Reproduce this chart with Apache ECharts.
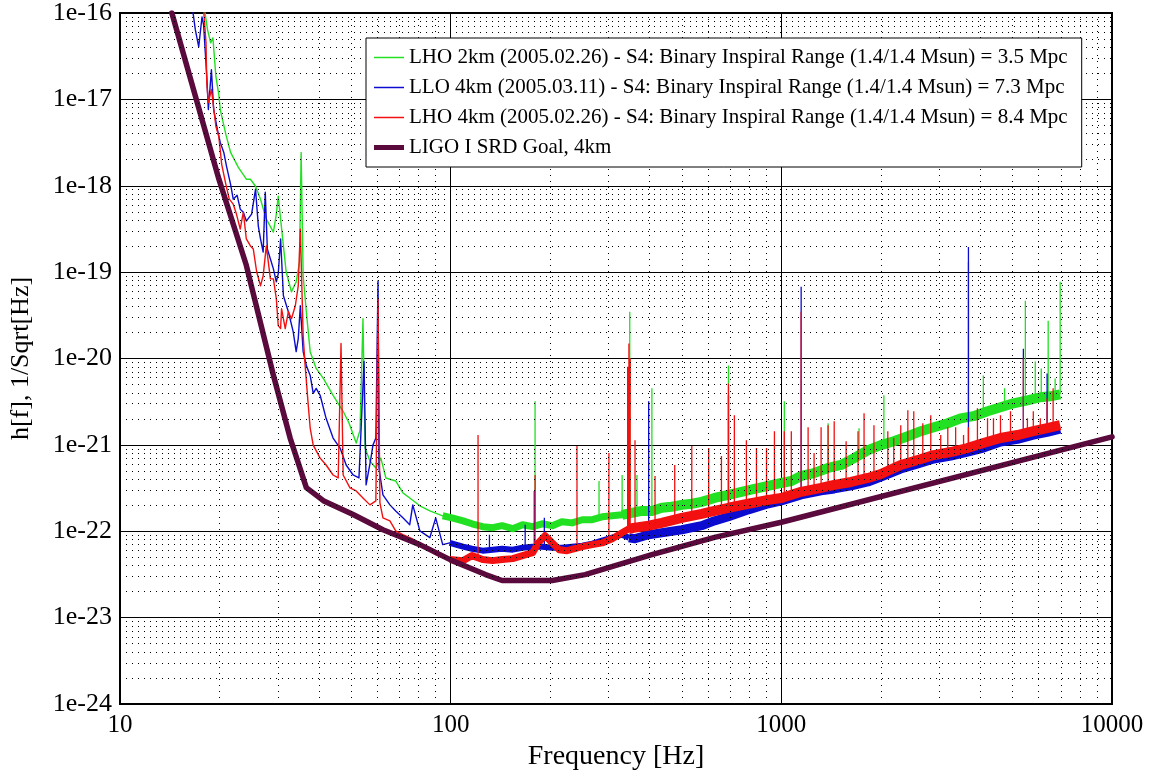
<!DOCTYPE html>
<html><head><meta charset="utf-8">
<script src="https://cdn.jsdelivr.net/npm/echarts@6/dist/echarts.min.js"></script>
<style>html,body{margin:0;padding:0;background:#fff}#c{width:1150px;height:776px}</style>
</head><body><div id="c"></div>
<script>
const seriesNames = [
  'LHO 2km (2005.02.26) - S4: Binary Inspiral Range (1.4/1.4 Msun) = 3.5 Mpc',
  'LLO 4km (2005.03.11) - S4: Binary Inspiral Range (1.4/1.4 Msun) = 7.3 Mpc',
  'LHO 4km (2005.02.26) - S4: Binary Inspiral Range (1.4/1.4 Msun) = 8.4 Mpc',
  'LIGO I SRD Goal, 4km'
];
const xTickLabels = ['10', '100', '1000', '10000'];
const yTickLabels = ['1e-24','1e-23','1e-22','1e-21','1e-20','1e-19','1e-18','1e-17','1e-16'];

// LHO 2km: low-frequency trace [Hz, h]
const lho2kmLow = [[17.8,1.49e-16],[18.4,6.37e-17],[18.8,4.51e-17],[19.1,5.15e-17],[19.5,1.83e-17],[19.9,1.135e-17],[20.1,7.62e-18],[20.9,3.93e-18],[21.6,2.43e-18],[22.8,1.63e-18],[24.1,1.19e-18],[24.8,1.19e-18],[25.7,9.87e-19],[26.6,6.99e-19],[27.7,4.11e-19],[29.1,2.91e-19],[29.7,4.7e-19],[30.1,7.57e-19],[30.6,4.11e-19],[31.2,2.01e-19],[31.8,1.01e-19],[33.0,5.92e-20],[34.1,7.72e-20],[34.9,1.31e-19],[35.3,2.43e-18],[35.8,9.06e-20],[36.6,3.48e-20],[37.6,1.2e-20],[39.2,7.67e-21],[41.2,5.88e-21],[44.1,3.75e-21],[47.3,2.45e-21],[49.3,1.78e-21],[51.8,1.05e-21],[53.2,1.48e-21],[54.3,2.89e-20],[55.1,9.18e-22],[57.0,6.5e-22],[59.4,5.4e-22],[61.5,7.03e-22],[63.7,4.14e-22],[68.2,3.82e-22],[71.7,2.78e-22],[75.2,2.43e-22],[80.7,1.97e-22],[86.5,1.72e-22],[94.6,1.51e-22],[101,1.43e-22]];
// LHO 2km: noise band
const lho2kmBand = [[94.6,1.51e-22],[101,1.43e-22],[109,1.32e-22],[116,1.22e-22],[125,1.13e-22],[134,1.1e-22],[143,1.16e-22],[154,1.07e-22],[165,1.19e-22],[177,1.13e-22],[189,1.22e-22],[203,1.16e-22],[217,1.29e-22],[233,1.25e-22],[250,1.36e-22],[268,1.36e-22],[287,1.47e-22],[308,1.51e-22],[330,1.55e-22],[353,1.63e-22],[379,1.72e-22],[406,1.72e-22],[435,1.87e-22],[466,1.92e-22],[500,2.02e-22],[536,2.08e-22],[574,2.19e-22],[628,2.43e-22],[692,2.64e-22],[758,2.86e-22],[829,3.09e-22],[914,3.35e-22],[1000,3.62e-22],[1072,3.82e-22],[1148,4.37e-22],[1256,4.72e-22],[1385,5.4e-22],[1516,5.85e-22],[1659,7.03e-22],[1828,8.7e-22],[2000,9.93e-22],[2188,1.1e-21],[2413,1.26e-21],[2641,1.44e-21],[2891,1.6e-21],[3187,1.78e-21],[3484,2.03e-21],[3811,2.15e-21],[4203,2.45e-21],[4600,2.72e-21],[5035,3.03e-21],[5549,3.28e-21],[6070,3.56e-21],[6500,3.65e-21],[6970,3.85e-21]];
// LHO 2km: lines [Hz, base, peak]
const lho2kmLines = [[180,1.13e-22,3.19e-21],[281,1.45e-22,3.82e-22],[330,1.55e-22,4.48e-22],[348,1.6e-22,3.48e-20],[366,1.65e-22,4.48e-22],[406,1.72e-22,4.51e-21],[692,2.64e-22,8.3e-21],[1021,3.7e-22,3.19e-21],[1385,5.4e-22,1.78e-21],[1718,7.5e-22,1.56e-21],[2042,1.0e-21,3.75e-21],[3680,2.1e-21,1.31e-19],[4083,2.3e-21,6.37e-21],[4732,2.8e-21,4.51e-21],[5470,3.2e-21,4.67e-20],[5861,3.4e-21,9.25e-21],[6110,3.56e-21,7.67e-21],[6412,3.6e-21,2.74e-20],[6730,3.7e-21,5.88e-21],[6970,3.85e-21,7.72e-20]];

// LLO 4km
const llo4kmLow = [[16.4,1.49e-16],[16.9,6.37e-17],[17.3,4.06e-17],[17.7,9.0e-17],[17.9,7.27e-17],[18.3,1.83e-17],[18.5,7.62e-18],[18.9,2.2e-17],[19.2,7.62e-18],[19.7,4.48e-18],[20.1,3.17e-18],[20.6,2.43e-18],[21.0,1.68e-18],[21.6,1.04e-18],[22.0,6.99e-19],[22.6,7.78e-19],[23.1,5.36e-19],[23.6,4.95e-19],[24.1,3.9e-19],[25.0,4.7e-19],[25.3,4.95e-19],[25.7,9.12e-19],[26.2,3.41e-19],[26.6,2.42e-19],[27.1,1.71e-19],[27.5,8.41e-19],[27.9,1.85e-19],[28.5,1.42e-19],[29.1,1.09e-19],[29.7,7.72e-20],[30.1,9.55e-20],[30.6,2.42e-19],[31.2,5.32e-20],[32.3,3.48e-20],[33.4,2.05e-20],[34.1,1.2e-20],[34.6,1.7e-20],[35.1,4.08e-20],[35.8,1.2e-20],[36.6,8.3e-21],[37.6,6.37e-21],[38.4,3.95e-21],[39.2,4.51e-21],[40.3,3.75e-21],[42.0,2.03e-21],[44.1,1.2e-21],[46.3,9.18e-22],[48.3,5.85e-22],[50.7,4.48e-22],[52.8,4.14e-22],[54.7,9.25e-21],[55.5,3.44e-22],[57.4,7.03e-22],[58.2,9.93e-22],[59.4,1.2e-21],[60.3,7.93e-20],[60.7,5.4e-22],[62.4,2.64e-22],[65.5,2.02e-22],[68.2,1.72e-22],[71.7,1.43e-22],[75.2,1.19e-22],[76.8,2.02e-22],[80.7,1.01e-22],[86.5,8.42e-23],[90.1,1.43e-22],[94.6,7.0e-23],[99.3,7.33e-23]];
const llo4kmBand = [[99.3,7.33e-23],[109,6.63e-23],[116,6.28e-23],[125,5.96e-23],[134,6.12e-23],[143,6.28e-23],[154,6.12e-23],[165,6.45e-23],[177,6.63e-23],[189,6.63e-23],[203,6.45e-23],[217,6.45e-23],[233,6.63e-23],[250,6.81e-23],[268,7.18e-23],[287,7.78e-23],[308,8.42e-23],[330,9.12e-23],[346,8.42e-23],[361,8.2e-23],[397,9.12e-23],[435,9.62e-23],[500,1.04e-22],[574,1.16e-22],[628,1.32e-22],[692,1.47e-22],[795,1.77e-22],[914,2.08e-22],[1000,2.25e-22],[1148,2.64e-22],[1319,2.93e-22],[1445,3.09e-22],[1626,3.35e-22],[1828,3.72e-22],[2000,4.25e-22],[2297,5.25e-22],[2586,6.0e-22],[2891,6.85e-22],[3252,7.41e-22],[3656,8.26e-22],[4083,9.18e-22],[4600,1.08e-21],[5176,1.16e-21],[5781,1.3e-21],[6364,1.4e-21],[6970,1.52e-21]];
const llo4kmLines = [[131,6.2e-23,9.12e-23],[168,6.45e-23,1.19e-22],[179,6.63e-23,2.93e-22],[192,6.6e-23,1.43e-22],[397,9.1e-23,3.19e-21],[692,1.47e-22,3.75e-21],[1148,2.64e-22,6.76e-20],[3680,8.3e-22,1.95e-19],[5395,1.2e-21,1.3e-20],[6364,1.4e-21,6.71e-21]];

// LHO 4km
const lho4kmLow = [[17.8,1.49e-16],[18.2,4.51e-17],[18.3,1.56e-17],[18.5,9.18e-18],[18.9,1.3e-17],[19.5,4.85e-18],[19.9,3.72e-18],[20.3,1.77e-18],[20.9,1.04e-18],[21.4,6.99e-19],[22.0,6.12e-19],[22.5,4.7e-19],[23.1,3.15e-19],[23.6,4.95e-19],[24.1,2.42e-19],[24.8,2.01e-19],[25.3,1.85e-19],[25.9,1.01e-19],[26.6,6.95e-20],[27.1,9.06e-20],[27.7,2.01e-19],[28.5,8.36e-20],[29.1,8.36e-20],[29.7,4.92e-20],[30.1,2.4e-20],[30.6,2.22e-20],[30.8,3.77e-20],[31.6,2.22e-20],[32.3,3.48e-20],[33.0,2.89e-20],[33.9,4.08e-20],[34.6,6.95e-20],[35.1,3.15e-19],[35.8,1.84e-20],[36.3,8.3e-21],[37.1,2.87e-21],[37.6,1.56e-21],[38.4,9.93e-22],[40.3,7.03e-22],[42.0,5.85e-22],[44.1,4.48e-22],[45.7,4.14e-22],[46.6,1.49e-20],[47.3,4.48e-22],[49.6,3.18e-22],[51.8,2.93e-22],[54.3,2.43e-22],[57.0,2.02e-22],[59.4,2.25e-22],[60.3,4.92e-20],[61.1,2.13e-22],[62.4,1.43e-22],[65.5,1.32e-22],[68.2,1.01e-22],[71.7,9.12e-23],[75.2,8.42e-23],[78.5,7.78e-23],[82.4,6.45e-23],[86.5,5.96e-23],[90.1,5.36e-23],[94.6,4.95e-23],[99.3,4.7e-23]];
const lho4kmBand = [[99.3,4.7e-23],[109,4.57e-23],[116,5.22e-23],[125,4.7e-23],[134,4.57e-23],[143,4.7e-23],[154,4.82e-23],[165,5.22e-23],[177,5.65e-23],[184,7.33e-23],[193,8.87e-23],[203,7.33e-23],[213,6.12e-23],[225,5.96e-23],[250,6.63e-23],[268,7.0e-23],[287,7.33e-23],[308,8.2e-23],[330,9.62e-23],[346,1.07e-22],[361,1.1e-22],[397,1.16e-22],[435,1.25e-22],[500,1.43e-22],[574,1.59e-22],[628,1.72e-22],[692,1.87e-22],[795,2.08e-22],[914,2.31e-22],[1000,2.43e-22],[1148,2.86e-22],[1319,3.18e-22],[1445,3.44e-22],[1626,3.72e-22],[1828,4.14e-22],[2000,4.6e-22],[2297,5.85e-22],[2586,6.67e-22],[2891,7.62e-22],[3252,8.26e-22],[3656,9.18e-22],[4083,1.05e-21],[4600,1.2e-21],[5176,1.3e-21],[5781,1.44e-21],[6364,1.56e-21],[6970,1.69e-21]];
const lho4kmLines = [[121,5e-23,1.3e-21],[180,5.6e-23,4.48e-22],[241,6.4e-23,9.68e-22],[301,8e-23,8.03e-22],[343,1.05e-22,8e-21],[346,1.07e-22,1.49e-20],[349,1.08e-22,1.0e-20],[361,1.1e-22,1.13e-21],[415,1.17e-22,4.37e-22],[476,1.38e-22,5.85e-22],[536,1.5e-22,9.68e-22],[603,1.62e-22,9.18e-22],[659,1.78e-22,7.41e-22],[692,1.87e-22,5.15e-21],[721,1.9e-22,2.2e-21],[784,2.05e-22,1.13e-21],[841,2.2e-22,9.18e-22],[902,2.3e-22,9.18e-22],[953,2.35e-22,1.44e-21],[1021,2.5e-22,1.44e-21],[1072,2.6e-22,1.44e-21],[1148,2.86e-22,3.48e-20],[1205,2.95e-22,1.6e-21],[1256,3.0e-22,8.03e-22],[1319,3.18e-22,1.6e-21],[1385,3.3e-22,1.69e-21],[1445,3.44e-22,1.88e-21],[1570,3.6e-22,1.1e-21],[1706,3.8e-22,1.44e-21],[1779,3.9e-22,2.32e-21],[1906,4.3e-22,1.69e-21],[2099,4.9e-22,1.44e-21],[2188,5.2e-22,1.2e-21],[2297,5.85e-22,1.69e-21],[2413,6.1e-22,2.52e-21],[2515,6.3e-22,2.45e-21],[2678,6.9e-22,1.78e-21],[2831,7.3e-22,2.2e-21],[3034,7.8e-22,1.3e-21],[3187,8.0e-22,1.6e-21],[3366,8.5e-22,1.6e-21],[3557,8.9e-22,1.3e-21],[3680,9.2e-22,1.6e-21],[3918,9.8e-22,2.65e-21],[4203,1.08e-21,2.03e-21],[4381,1.12e-21,2.03e-21],[4600,1.2e-21,2.2e-21],[4932,1.24e-21,2.45e-21],[5395,1.3e-21,1.0e-20],[5549,1.35e-21,2.03e-21],[5781,1.44e-21,2.45e-21],[6070,1.5e-21,2.03e-21],[6364,1.56e-21,3.46e-21],[6637,1.62e-21,4.51e-21]];

// LIGO I SRD goal
const srdGoal = [[14.35,1e-16],[19.9,1.2e-18],[24.1,1.2e-19],[29.1,6.4e-21],[32.7,1.2e-21],[36.6,3.2e-22],[41.2,2.26e-22],[50.7,1.56e-22],[62.4,1.04e-22],[80.7,7.0e-23],[101,4.57e-23],[127.5,3.15e-23],[143,2.69e-23],[203,2.69e-23],[255,3.15e-23],[406,5.36e-23],[628,8.5e-23],[1000,1.27e-22],[10000,1.24e-21]];

// The log axis works on h scaled by 1e24 (tiny values lose precision in the library);
// labels map back to the original decades.
const Y_SCALE = 1e24;
const FONT = 'Liberation Serif';
const C_GREEN = '#22e022', C_BLUE = '#0c0cd0', C_RED = '#f21010', C_SRD = '#5a0a3c';

function scaled(list) { return list.map(function (p) { return [p[0], p[1] * Y_SCALE]; }); }
function part(list, lo, hi) { return scaled(list.filter(function (p) { return p[0] >= lo && p[0] <= hi; })); }
function spikeData(list) {
  const out = [];
  list.forEach(function (s) { out.push([s[0], s[1] * Y_SCALE], [s[0], s[2] * Y_SCALE], [s[0], null]); });
  return out;
}
function lineSeries(name, data, color, width, cap) {
  return {
    name: name, type: 'line', data: data, symbol: 'none', showSymbol: false,
    lineStyle: { color: color, width: width, cap: cap || 'butt', join: 'round' },
    itemStyle: { color: color }, connectNulls: false, clip: true,
    silent: true, emphasis: { disabled: true }, animation: false
  };
}

const minorX = [], minorY = [];
for (let e = 1; e < 4; e++) for (let m = 2; m < 10; m++) minorX.push({ xAxis: m * Math.pow(10, e) });
for (let e = 0; e < 8; e++) for (let m = 2; m < 10; m++) minorY.push({ yAxis: m * Math.pow(10, e) });

const thinIcon = 'path://M0,0 L30,0 L30,1.5 L0,1.5 Z';
const thickIcon = 'path://M0,0 L30,0 L30,5 L0,5 Z';

const chart = echarts.init(document.getElementById('c'), null, { renderer: 'canvas' });
chart.setOption({
  animation: false,
  backgroundColor: '#fff',
  grid: { left: 116, right: 38, top: 13, bottom: 68, show: true, borderColor: '#000', borderWidth: 2, backgroundColor: 'transparent' },
  legend: {
    data: seriesNames.map(function (n, i) { return { name: n, icon: i === 3 ? thickIcon : thinIcon }; }),
    orient: 'vertical', left: 366, top: 38,
    padding: [9, 14, 9, 8], itemGap: 9, itemWidth: 30, itemHeight: 14,
    symbolKeepAspect: true,
    backgroundColor: '#fff', borderColor: '#000', borderWidth: 1, borderRadius: 0,
    selectedMode: false, z: 10,
    textStyle: { fontFamily: FONT, fontSize: 21, color: '#000' }
  },
  xAxis: {
    type: 'log', logBase: 10, min: 10, max: 10000,
    axisLine: { show: false }, axisTick: { show: false },
    splitLine: { show: true, lineStyle: { color: '#000', width: 1 } },
    axisLabel: {
      fontFamily: FONT, fontSize: 25, color: '#000', margin: 9,
      formatter: function (v) { return xTickLabels[Math.round(Math.log10(v)) - 1]; }
    },
    name: 'Frequency [Hz]', nameLocation: 'middle', nameGap: 39,
    nameTextStyle: { fontFamily: FONT, fontSize: 28, color: '#000' }
  },
  yAxis: {
    type: 'log', logBase: 10, min: 1, max: 1e8,
    axisLine: { show: false }, axisTick: { show: false },
    splitLine: { show: true, lineStyle: { color: '#000', width: 1 } },
    axisLabel: {
      fontFamily: FONT, fontSize: 26, color: '#000', margin: 8,
      formatter: function (v) { return yTickLabels[Math.round(Math.log10(v))]; }
    },
    name: 'h[f], 1/Sqrt[Hz]', nameLocation: 'middle', nameGap: 86,
    nameTextStyle: { fontFamily: FONT, fontSize: 26, color: '#000' }
  },
  series: [
    {
      type: 'line', data: [[10, 1]], symbol: 'none', silent: true, z: 1,
      lineStyle: { width: 0 },
      markLine: {
        silent: true, symbol: ['none', 'none'], animation: false,
        label: { show: false }, emphasis: { disabled: true },
        lineStyle: { color: '#000', width: 1, type: [1, 5] },
        data: minorX.concat(minorY)
      }
    },
    lineSeries(seriesNames[0], scaled(lho2kmLow), C_GREEN, 1.4, 'round'),
    lineSeries(seriesNames[0], part(lho2kmBand, 0, 353), C_GREEN, 7),
    lineSeries(seriesNames[0], part(lho2kmBand, 330, 1e5), C_GREEN, 10),
    lineSeries(seriesNames[0], spikeData(lho2kmLines), C_GREEN, 1.3),
    lineSeries(seriesNames[1], scaled(llo4kmLow), C_BLUE, 1.4, 'round'),
    lineSeries(seriesNames[1], part(llo4kmBand, 0, 346), C_BLUE, 6),
    lineSeries(seriesNames[1], part(llo4kmBand, 346, 1e5), C_BLUE, 9),
    lineSeries(seriesNames[1], spikeData(llo4kmLines), C_BLUE, 1.3),
    lineSeries(seriesNames[2], scaled(lho4kmLow), C_RED, 1.4, 'round'),
    lineSeries(seriesNames[2], part(lho4kmBand, 0, 346), C_RED, 7),
    lineSeries(seriesNames[2], part(lho4kmBand, 346, 1e5), C_RED, 10),
    lineSeries(seriesNames[2], spikeData(lho4kmLines), C_RED, 1.3),
    lineSeries(seriesNames[3], scaled(srdGoal), C_SRD, 5.5, 'round')
  ]
});
</script>
</body></html>
